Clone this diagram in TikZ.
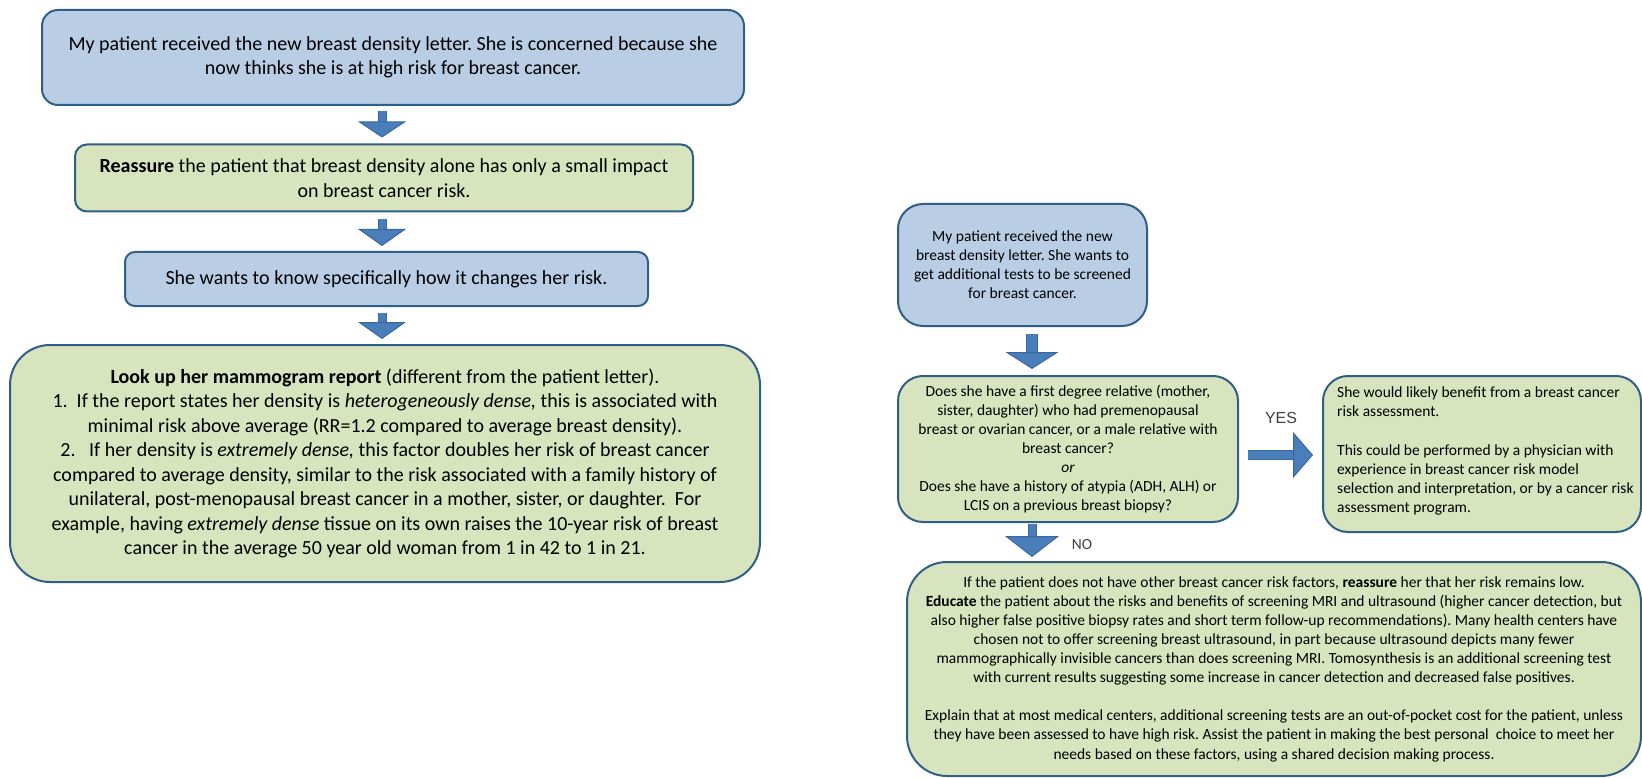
\documentclass[tikz,border=0pt]{standalone}
\usepackage{fontspec}
\setmainfont{Carlito}
\newfontfamily\arialf{Liberation Sans}
\usetikzlibrary{arrows.meta,calc}
\definecolor{boxblue}{HTML}{B9CDE5}
\definecolor{boxgreen}{HTML}{D7E4BD}
\definecolor{edgecol}{HTML}{2F5F87}
\definecolor{arrfill}{HTML}{4A7EBB}
\definecolor{arrdark}{HTML}{3A679C}
\frenchspacing
\begin{document}
\begin{tikzpicture}[x=1pt,y=-1pt,
  box/.style={draw=edgecol, line width=2pt, align=center, inner sep=0pt},
  bluebox/.style={box, fill=boxblue},
  greenbox/.style={box, fill=boxgreen},
  bigfont/.style={font=\fontsize{20}{24.5}\selectfont},
  smallfont/.style={font=\fontsize{15.5}{19.1}\selectfont},
  blk/.style n args={5}{line width=#1, draw=arrfill,
    -{Triangle[width=#3, length=#4, fill=arrfill, color=arrdark, line width=1pt]},
    preaction={draw=arrdark, line width=#2, -, shorten >=#5}},
]
\useasboundingbox (0,0) rectangle (1642,778);

% left column
\node[bluebox, bigfont, rounded corners=16pt, minimum width=702pt, minimum height=95pt] (b1) at (393,57.5)
  {My patient received the new breast density letter. She is concerned because she\\ now thinks she is at high risk for breast cancer.};
\node[greenbox, bigfont, rounded corners=12pt, minimum width=618pt, minimum height=67pt] (b2) at (384,178)
  {\textbf{Reassure} the patient that breast density alone has only a small impact\\ on breast cancer risk.};
\node[bluebox, bigfont, rounded corners=10pt, minimum width=523pt, minimum height=54pt] (b3) at (386.5,279)
  {She wants to know specifically how it changes her risk.};
\node[greenbox, bigfont, rounded corners=40pt, minimum width=750pt, minimum height=237pt] (b4) at (385,463.5)
  {\textbf{Look up her mammogram report} (different from the patient letter).\\
   1.\ \ If the report states her density is \textit{heterogeneously dense,} this is associated with\\
   minimal risk above average (RR=1.2 compared to average breast density).\\
   2.\ \ \ If her density is \textit{extremely dense,} this factor doubles her risk of breast cancer\\
   compared to average density, similar to the risk associated with a family history of\\
   unilateral, post-menopausal breast cancer in a mother, sister, or daughter.\ \ For\\
   example, having \textit{extremely dense} tissue on its own raises the 10-year risk of breast\\
   cancer in the average 50 year old woman from 1 in 42 to 1 in 21.};

\coordinate (axL) at (382,0);
\draw[blk={7pt}{9pt}{48pt}{16pt}{15pt}] ($(b1.south -| axL)+(0,5)$) -- ($(b2.north -| axL)+(0,-6)$);
\draw[blk={7pt}{9pt}{48pt}{17pt}{16pt}] ($(b2.south -| axL)+(0,7)$) -- ($(b3.north -| axL)+(0,-5)$);
\draw[blk={7pt}{9pt}{48pt}{17pt}{16pt}] ($(b3.south -| axL)+(0,6)$) -- ($(b4.north -| axL)+(0,-5)$);

% right column
\node[bluebox, smallfont, rounded corners=25pt, minimum width=249pt, minimum height=122pt] (bA) at (1022.5,265)
  {My patient received the new\\ breast density letter. She wants to\\ get additional tests to be screened\\ for breast cancer.};
\node[greenbox, smallfont, rounded corners=25pt, minimum width=340pt, minimum height=146pt] (bB) at (1068,449)
  {Does she have a first degree relative (mother,\\ sister, daughter) who had premenopausal\\ breast or ovarian cancer, or a male relative with\\ breast cancer?\\ \textit{or}\\ Does she have a history of atypia (ADH, ALH) or\\ LCIS on a previous breast biopsy?};
\node[greenbox, rounded corners=25pt, minimum width=318pt, minimum height=156pt] (bD) at (1482,454) {};
\node[smallfont, align=left, anchor=west, inner sep=0pt] (tD) at (1337,451)
  {She would likely benefit from a breast cancer\\ risk assessment.\\[19.1pt] This could be performed by a physician with\\ experience in breast cancer risk model\\ selection and interpretation, or by a cancer risk\\ assessment program.};
\node[greenbox, smallfont, rounded corners=40pt, minimum width=734pt, minimum height=214pt] (bC) at (1274,669)
  {If the patient does not have other breast cancer risk factors, \textbf{reassure} her that her risk remains low.\\
   \textbf{Educate} the patient about the risks and benefits of screening MRI and ultrasound (higher cancer detection, but\\
   also higher false positive biopsy rates and short term follow-up recommendations). Many health centers have\\
   chosen not to offer screening breast ultrasound, in part because ultrasound depicts many fewer\\
   mammographically invisible cancers than does screening MRI. Tomosynthesis is an additional screening test\\
   with current results suggesting some increase in cancer detection and decreased false positives.\\[19.1pt]
   Explain that at most medical centers, additional screening tests are an out-of-pocket cost for the patient, unless\\
   they have been assessed to have high risk. Assist the patient in making the best personal\ \ choice to meet her\\
   needs based on these factors, using a shared decision making process.};

\coordinate (axR) at (1032,0);
\coordinate (ayR) at (0,455);
\draw[blk={10pt}{12pt}{53pt}{17pt}{16pt}] ($(bA.south -| axR)+(0,7)$) -- ($(bB.north -| axR)+(0,-6)$);
\draw[blk={7pt}{9pt}{54pt}{21pt}{20pt}] ($(bB.south -| axR)+(0,1)$) -- ($(bC.north -| axR)+(0,-4)$);
\draw[blk={8pt}{10pt}{46pt}{20pt}{19pt}] ($(bB.east |- ayR)+(9,0)$) -- ($(bD.west |- ayR)+(-9,0)$);

\node[font=\arialf\fontsize{16}{19}\selectfont, text=black!75] (yes) at (1281,418) {YES};
\node[font=\fontsize{15.5}{19}\selectfont, text=black!75] (no) at (1082,545) {NO};
\end{tikzpicture}
\end{document}
